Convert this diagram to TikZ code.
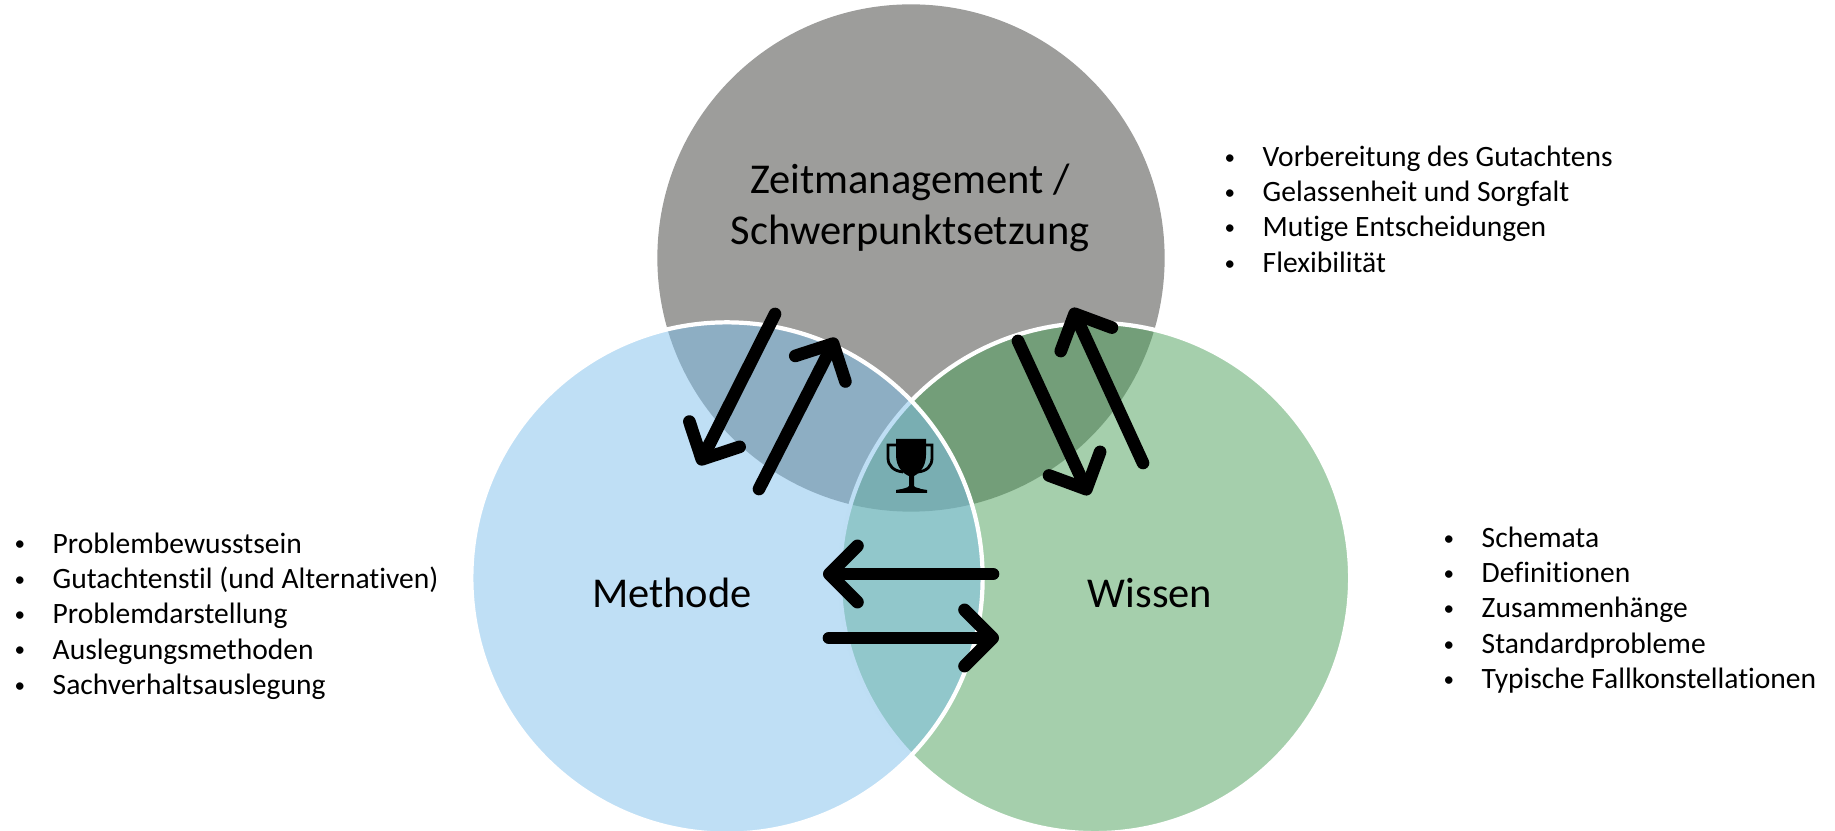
\documentclass[tikz,border=0pt]{standalone}
\usepackage{fontspec}
\setmainfont[Ligatures=NoCommon]{Carlito}
\usetikzlibrary{arrows.meta}

\definecolor{grayc}{HTML}{9D9D9B}
\definecolor{bluec}{HTML}{7FBFEB}
\definecolor{greenc}{HTML}{4B9F59}

\newcommand{\li}[1]{\makebox[0.38cm][l]{\raisebox{0.6pt}{\fontsize{6}{6}\selectfont\textbullet}}#1}

\tikzset{
  venn/.style={circle, inner sep=0pt, minimum size=#1},
  big/.style={font=\fontsize{12.08}{14.4}\selectfont, align=center},
  small/.style={font=\fontsize{8.4}{10.05}\selectfont, align=left, anchor=west, inner sep=0pt},
  pfeil/.style={line width=3.6pt, line cap=round, -{Straight Barb[round, length=8pt, width=16pt]}},
}

\begin{document}
\begin{tikzpicture}[x=0.01cm, y=-0.01cm]
      \useasboundingbox (0,0) rectangle (1835,831);

      \node[venn=5.07cm, fill=grayc]  (Z) at ( 911, 258) {};
      \node[venn=5.10cm, fill=greenc, fill opacity=0.5, draw=white, line width=1.2pt]  (W) at (1095, 578) {};
      \node[venn=5.11cm, fill=bluec,  fill opacity=0.5, draw=white, line width=1.2pt]  (M) at ( 727, 578) {};

      \node[big]  (ZT) at ( 910, 208)  {Zeitmanagement /\\ Schwerpunktsetzung};
      \node[big]  (MT) at ( 672, 593)  {Methode};
      \node[big]  (WT) at (1150, 593)  {Wissen};

      \node[small]  (LZ) at (1224, 209)  {\li{Vorbereitung des Gutachtens}\\ \li{Gelassenheit und Sorgfalt}\\ \li{Mutige Entscheidungen}\\ \li{Flexibilität}};
      \node[small]  (LM) at (  14, 616)  {\li{Problembewusstsein}\\ \li{Gutachtenstil (und Alternativen)}\\ \li{Problemdarstellung}\\ \li{Auslegungsmethoden}\\ \li{Sachverhaltsauslegung}};
      \node[small]  (LW) at (1443, 610)  {\li{Schemata}\\ \li{Definitionen}\\ \li{Zusammenhänge}\\ \li{Standardprobleme}\\ \li{Typische Fallkonstellationen}};

      \coordinate (a1) at ( 775, 314);
      \coordinate (b1) at ( 699, 465);
      \coordinate (a2) at ( 759, 489);
      \coordinate (b2) at ( 836, 338);
      \coordinate (a3) at (1018, 341);
      \coordinate (b3) at (1089, 495);
      \coordinate (a4) at (1143, 463);
      \coordinate (b4) at (1072, 308);
      \coordinate (a5) at ( 993, 574);
      \coordinate (b5) at ( 823, 574);
      \coordinate (a6) at ( 829, 638);
      \coordinate (b6) at ( 999, 638);

      \draw[pfeil] (a1) -- (b1);
      \draw[pfeil] (a2) -- (b2);
      \draw[pfeil] (a3) -- (b3);
      \draw[pfeil] (a4) -- (b4);
      \draw[pfeil] (a5) -- (b5);
      \draw[pfeil] (a6) -- (b6);

      % Pokal
      \fill (896,439) -- (926,439) -- (926,455) .. controls (926,468) and (918,474) .. (914,476)
        -- (914,486) .. controls (915,488) and (920,488) .. (921,489) -- (927,490) -- (927,493) -- (896,493) -- (896,490)
        -- (902,489) .. controls (904,488) and (908,488) .. (909,486) -- (909,476)
        .. controls (904,474) and (896,468) .. (896,455) -- cycle;
      \draw[line width=0.8pt] (896,445) -- (888,445) -- (888,458) .. controls (888,466) and (894,471) .. (903,472);
      \draw[line width=0.8pt] (926,445) -- (932,445) -- (932,458) .. controls (932,466) and (927,471) .. (918,472);
\end{tikzpicture}
\end{document}
